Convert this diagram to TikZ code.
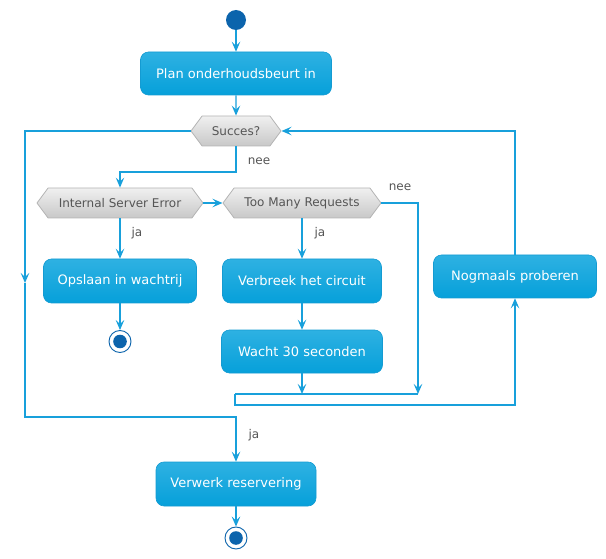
\documentclass[tikz,border=0pt]{standalone}
\usepackage{fontspec}
\setmainfont{DejaVu Sans}
\usetikzlibrary{arrows.meta,shapes.symbols}
\definecolor{ln}{RGB}{24,160,219}
\definecolor{boxtop}{RGB}{46,177,226}
\definecolor{boxbot}{RGB}{6,160,218}
\definecolor{boxedge}{RGB}{20,155,210}
\definecolor{hextop}{RGB}{240,240,240}
\definecolor{hexbot}{RGB}{200,200,200}
\definecolor{hexedge}{RGB}{180,180,180}
\definecolor{txtgray}{RGB}{85,85,85}
\definecolor{dot}{RGB}{12,100,172}
\tikzset{
  actbox/.style={rectangle, rounded corners=8pt, top color=boxtop, bottom color=boxbot,
    draw=boxedge, line width=0.6pt, text=white, inner sep=0pt,
    font=\fontsize{13}{15}\selectfont},
  hexnode/.style={signal, signal to=east and west, signal pointer angle=107,
    top color=hextop, bottom color=hexbot, draw=hexedge, line width=0.8pt,
    text=txtgray, inner sep=0pt, minimum height=30pt,
    font=\fontsize{12}{14}\selectfont},
  startdot/.style={circle, fill=dot, minimum size=20pt, inner sep=0pt},
  stopdot/.style={circle, draw=dot, fill=white, line width=0.9pt, minimum size=22pt, inner sep=0pt,
    path picture={\fill[dot] (path picture bounding box.center) circle (6.8pt);}},
  conn/.style={draw=ln, line width=1.3pt, -{Stealth[length=10pt,width=8.5pt,inset=4pt]}},
  plain/.style={draw=ln, line width=1.3pt},
  lbl/.style={text=txtgray, font=\fontsize{12}{14}\selectfont, inner sep=0pt}
}
\begin{document}
\begin{tikzpicture}[x=1pt,y=-1pt]
\useasboundingbox (0,0) rectangle (606,559);
% nodes
\node[startdot] (start) at (236,20) {};
\node[actbox, minimum width=191pt, minimum height=43pt] (plan) at (236,73.5) {Plan onderhoudsbeurt in};
\node[hexnode, minimum width=90pt] (succ) at (236,131) {Succes?};
\node[hexnode, minimum width=166pt] (ise) at (120,203) {Internal Server Error};
\node[hexnode, minimum width=158pt] (tmr) at (302,203) {Too Many Requests};
\node[actbox, minimum width=153pt, minimum height=44pt] (ops) at (120,281) {Opslaan in wachtrij};
\node[stopdot] (stop1) at (120,341.5) {};
\node[actbox, minimum width=159pt, minimum height=44pt] (verb) at (302,281) {Verbreek het circuit};
\node[actbox, minimum width=161pt, minimum height=43pt] (wacht) at (302,351.5) {Wacht 30 seconden};
\node[actbox, minimum width=163pt, minimum height=43pt] (nog) at (515,276.5) {Nogmaals proberen};
\node[actbox, minimum width=160pt, minimum height=44pt] (verw) at (236,484) {Verwerk reservering};
\node[stopdot] (stop2) at (236,538) {};
% coordinates
\coordinate (lA) at (25,131);
\coordinate (lB) at (25,283);
\coordinate (lC) at (25,417);
\coordinate (lD) at (236,417);
\coordinate (nA) at (236,172);
\coordinate (nB) at (120,172);
\coordinate (rA) at (418,203);
\coordinate (rB) at (418,394);
\coordinate (mA) at (235,394);
\coordinate (mB) at (235,405);
\coordinate (mC) at (515,405);
\coordinate (wB) at (302,394);
\coordinate (tA) at (515,131);
% connectors
\draw[conn] (start) -- (plan);
\draw[conn] (plan) -- (succ);
\draw[conn] (succ.west) -- (lA) -- (lB);
\draw[conn] (lB) -- (lC) -- (lD) -- (verw.north);
\draw[conn] (succ.south) -- (nA) -- (nB) -- (ise.north);
\draw[conn] (ise.east) -- (tmr.west);
\draw[conn] (ise.south) -- (ops.north);
\draw[conn] (ops.south) -- (stop1.north);
\draw[conn] (tmr.south) -- (verb.north);
\draw[conn] (verb.south) -- (wacht.north);
\draw[conn] (wacht.south) -- (wB);
\draw[conn] (tmr.east) -- (rA) -- (rB);
\draw[plain] (mA) -- (rB);
\draw[conn] (mA) -- (mB) -- (mC) -- (nog.south);
\draw[conn] (nog.north) -- (tA) -- (succ.east);
\draw[conn] (verw.south) -- (stop2.north);
% labels
\node[lbl] (l1) at (259,161) {nee};
\node[lbl] (l2) at (137,233) {ja};
\node[lbl] (l3) at (320,233) {ja};
\node[lbl] (l4) at (400,187) {nee};
\node[lbl] (l5) at (254,435) {ja};
\end{tikzpicture}
\end{document}
